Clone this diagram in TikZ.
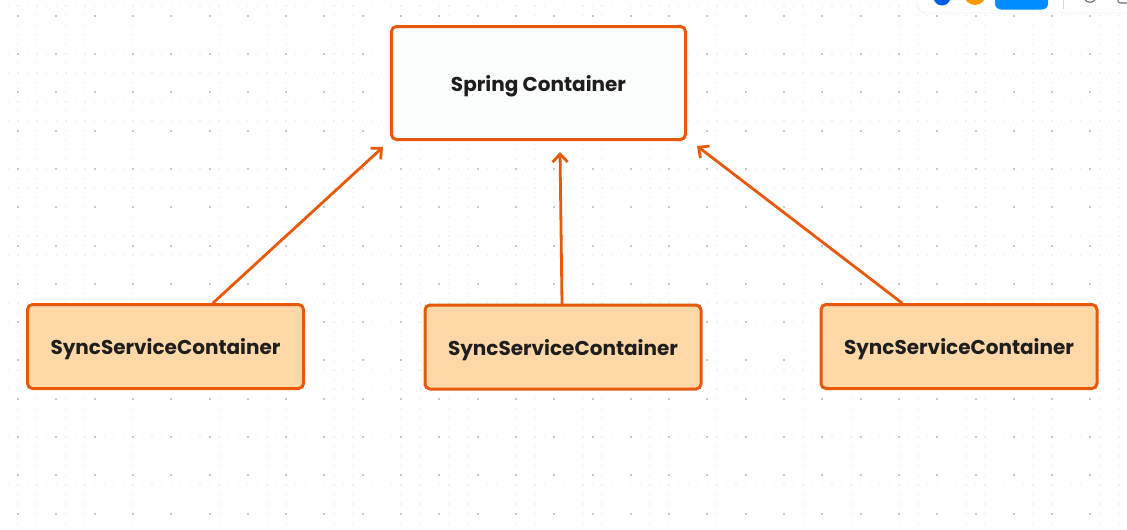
\documentclass[tikz,border=0pt]{standalone}
\usepackage{fontspec}
\setmainfont{Poppins}
\usetikzlibrary{arrows.meta}
\definecolor{strokeorange}{HTML}{E8590C}
\definecolor{filllight}{HTML}{FFD8A8}
\definecolor{textdark}{HTML}{1E1E1E}
\tikzset{
    box/.style={draw=strokeorange, line width=3pt, rounded corners=5pt, text=textdark,
        font=\fontsize{20}{24}\selectfont\bfseries, inner sep=0pt, text depth=0pt},
    syncbox/.style={box, fill=filllight, minimum width=276pt, minimum height=84pt},
    link/.style={draw=strokeorange, line width=2.8pt, line cap=round, line join=round,
        -{Straight Barb[length=8pt,width=15pt,line width=2.8pt]}}
}
\begin{document}
\begin{tikzpicture} [x=1pt,y=-1pt]
        \useasboundingbox (0,0) rectangle (1127,530);
        \fill[white] (0,0) rectangle (1127,530);
        % dotted canvas
        \foreach \j in {0,...,55}
            \draw[black!6, line width=1.3pt, dash pattern=on 1.3pt off 8.275pt] (7.75,6.1+\j*9.575) -- (1127,6.1+\j*9.575);
        \foreach \j in {0,...,13}
            \draw[black!22, line width=2pt, dash pattern=on 2pt off 36.3pt] (17,15.7+\j*38.3) -- (1127,15.7+\j*38.3);
        % toolbar
        \filldraw[fill=white, draw=black!10, rounded corners=9pt] (917,-20) rectangle (1145,13);
        \fill[blue!60!cyan!90!black] (942,-3) circle (8.5);
        \fill[orange!80!yellow] (975,-6) circle (11);
        \fill[blue!45!cyan, rounded corners=6pt] (995,-15) rectangle (1048,9.5);
        \draw[black!15] (1063,0) -- (1063,9);
        \draw[black!55, line width=1.2pt] (1085,0) .. controls (1088,3) and (1092,3) .. (1095,0);
        \draw[black!55, line width=1.2pt] (1118,0) .. controls (1118,3) .. (1127,3);
        % boxes
        \node[box, fill=white!99!teal, minimum width=294pt, minimum height=113pt] (spring) at (538.5,83) {Spring Container};
        \node[syncbox] (syncleft) at (165.5,346.5) {SyncServiceContainer};
        \node[syncbox] (syncmid) at (563,347) {SyncServiceContainer};
        \node[syncbox] (syncright) at (959,346.5) {SyncServiceContainer};
        % arrows
        \draw[link] ([xshift=47.5pt]syncleft.north) -- ([shift={(-7,6)}]spring.south west);
        \draw[link] ([xshift=-1pt]syncmid.north) -- ([shift={(21.5,11)}]spring.south);
        \draw[link] ([xshift=-57pt]syncright.north) -- ([shift={(10,5)}]spring.south east);
    \end{tikzpicture}
\end{document}
